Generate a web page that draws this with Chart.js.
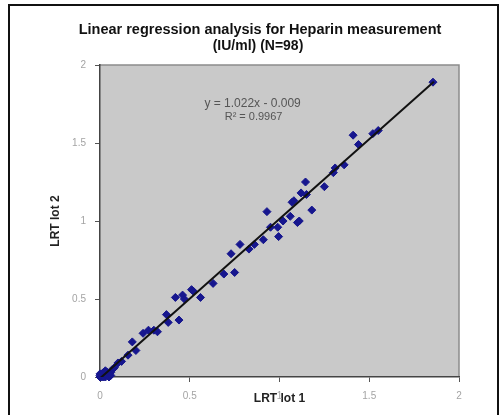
<!DOCTYPE html>
<html>
<head>
<meta charset="utf-8">
<script src="https://cdn.jsdelivr.net/npm/chart.js@4.4.0/dist/chart.umd.min.js"></script>
<style>
  body { margin: 0; background: #fff; }
  #wrap { position: relative; width: 500px; height: 415px; overflow: hidden; }
  #frame { position: absolute; left: 8px; top: 4px; width: 487px; height: 430px; border: 2px solid #111; border-bottom: none; pointer-events: none; }
</style>
</head>
<body>
<div id="wrap">
  <canvas id="chart" width="500" height="415"></canvas>
  <div id="frame"></div>
</div>
<script>
// LRT lot 1 (x) vs LRT lot 2 (y), IU/ml
const lot1 = [
  0, 0.01, 0.02, 0.03, 0.01, 0.04, 0.02, 0, 0.05, 0.03, 0.06, 0.01, 0.04, 0.02, 0, 0.05, 0.07, 0.03, 0.06, 0.08,
  0.10, 0.12, 0.156, 0.18, 0.20, 0.24, 0.27, 0.30, 0.32, 0.37, 0.38, 0.44, 0.42, 0.46, 0.47, 0.51, 0.52, 0.56,
  0.63, 0.69, 0.75, 0.73, 0.78, 0.83, 0.86, 0.91, 0.93, 0.95, 0.99, 0.995, 1.02, 1.06, 1.07, 1.08, 1.10, 1.12,
  1.11, 1.145, 1.15, 1.18, 1.25, 1.30, 1.31, 1.36, 1.41, 1.44, 1.52, 1.55, 1.855
];
const lot2 = [
  0, 0, 0.01, 0, 0.02, 0.01, 0.03, 0.02, 0.02, 0.04, 0.03, 0.01, 0.03, 0, 0.01, 0, 0.05, 0.02, 0.01, 0.06,
  0.09, 0.10, 0.14, 0.225, 0.17, 0.28, 0.30, 0.30, 0.29, 0.40, 0.35, 0.365, 0.51, 0.525, 0.50, 0.56, 0.55, 0.51,
  0.60, 0.66, 0.67, 0.79, 0.85, 0.82, 0.85, 0.88, 1.06, 0.96, 0.96, 0.90, 1.00, 1.03, 1.12, 1.13, 0.99, 1.18,
  1.00, 1.25, 1.17, 1.07, 1.22, 1.31, 1.34, 1.36, 1.55, 1.49, 1.56, 1.58, 1.89
];
const trendX = [0, 1.86];
const trendY = [-0.009, 1.892];
const titleLines = ["Linear regression analysis for Heparin measurement", "(IU/ml) (N=98)"];
const equationLines = ["y = 1.022x - 0.009", "R\u00b2 = 0.9967"];
const xTitle = "LRT lot 1";
const yTitle = "LRT lot 2";

const FONT = "'Liberation Sans', Arial, sans-serif";

const chartDecor = {
  id: "chartDecor",
  beforeDraw(chart) {
    const { ctx, chartArea: a } = chart;
    ctx.save();
    ctx.fillStyle = "#c9c9c9";
    ctx.fillRect(a.left, a.top, a.right - a.left, a.bottom - a.top);
    ctx.strokeStyle = "#8c8c8c";
    ctx.lineWidth = 1.5;
    ctx.beginPath();
    ctx.moveTo(a.left, a.top);
    ctx.lineTo(a.right, a.top);
    ctx.lineTo(a.right, a.bottom);
    ctx.stroke();
    ctx.restore();
  },
  afterDraw(chart) {
    const { ctx, scales } = chart;
    ctx.save();
    ctx.textAlign = "center";
    ctx.textBaseline = "middle";
    ctx.fillStyle = "#111";
    ctx.font = "bold 14.5px " + FONT;
    ctx.fillText(titleLines[0], 260, 30);
    ctx.font = "bold 14px " + FONT;
    ctx.fillText(titleLines[1], 258, 46);

    ctx.fillStyle = "#555";
    ctx.font = "12px " + FONT;
    const ex = scales.x.getPixelForValue(0.85);
    ctx.fillText(equationLines[0], ex, scales.y.getPixelForValue(1.75));
    ctx.font = "11px " + FONT;
    ctx.fillText(equationLines[1], ex + 1, scales.y.getPixelForValue(1.67));
    ctx.restore();
  }
};

new Chart(document.getElementById("chart").getContext("2d"), {
  type: "scatter",
  data: {
    datasets: [
      {
        type: "line",
        data: trendX.map((x, i) => ({ x: x, y: trendY[i] })),
        borderColor: "#111",
        borderWidth: 2,
        pointRadius: 0,
        fill: false
      },
      {
        data: lot1.map((x, i) => ({ x: x, y: lot2[i] })),
        pointStyle: "rectRot",
        pointRadius: 4,
        backgroundColor: "#16168e",
        borderColor: "#16168e",
        borderWidth: 1,
        clip: false
      }
    ]
  },
  options: {
    responsive: false,
    animation: false,
    layout: { padding: { left: 20, right: 41, top: 65, bottom: 0 } },
    plugins: {
      legend: { display: false },
      tooltip: { enabled: false }
    },
    scales: {
      x: {
        type: "linear",
        min: 0, max: 2,
        afterFit(s) { s.height = 38; },
        ticks: { stepSize: 0.5, color: "#a4a4a4", padding: 8, font: { family: FONT, size: 10 }, callback: v => String(v) },
        grid: { drawOnChartArea: false, tickLength: 5, tickColor: "#555" },
        border: { color: "#444", width: 1.5 },
        title: { display: true, text: xTitle, color: "#222", padding: { top: 0, bottom: 9 }, font: { family: FONT, size: 12, weight: "bold" } }
      },
      y: {
        min: 0, max: 2,
        afterFit(s) { s.width = 80; },
        ticks: { stepSize: 0.5, color: "#a4a4a4", padding: 9, font: { family: FONT, size: 10 }, callback: v => String(v) },
        grid: { drawOnChartArea: false, tickLength: 5, tickColor: "#555" },
        border: { color: "#444", width: 1.5 },
        title: { display: true, text: yTitle, color: "#222", padding: { top: 28, bottom: 0 }, font: { family: FONT, size: 12, weight: "bold" } }
      }
    }
  },
  plugins: [chartDecor]
});
</script>
</body>
</html>
